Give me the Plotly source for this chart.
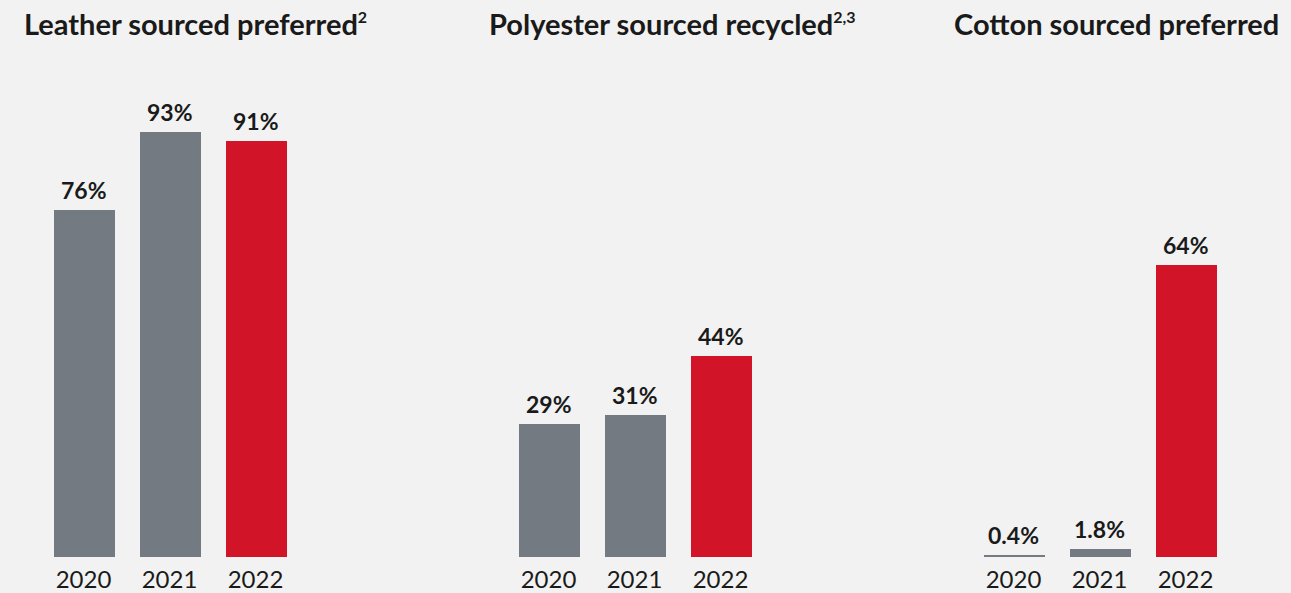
import plotly.graph_objects as go

years = ["2020", "2021", "2022"]
titles = ["Leather sourced preferred", "Polyester sourced recycled",
          "Cotton sourced preferred"]
title_notes = ["2", "2,3", ""]
leather = [76, 93, 91]
polyester = [29, 31, 44]
cotton = [0.4, 1.8, 64]
leather_labels = ["76%", "93%", "91%"]
polyester_labels = ["29%", "31%", "44%"]
cotton_labels = ["0.4%", "1.8%", "64%"]

series = [leather, polyester, cotton]
labels = [leather_labels, polyester_labels, cotton_labels]

GRAY = "#737a82"
RED = "#d11427"
BG = "#f2f2f2"
TXT = "#1a1a1a"
FONT = "Lato"

W, H = 1291, 593
MT, MB = 100, 36
PH = H - MT - MB
colors = [GRAY, GRAY, RED]

fig = go.Figure()
lefts = [40.5, 505.5, 970.5]
for i in range(3):
    ax = "" if i == 0 else str(i + 1)
    fig.add_trace(go.Bar(
        x=years, y=series[i], marker=dict(color=colors, line=dict(width=0)),
        width=61 / 86, xaxis="x" + ax, yaxis="y" + ax, showlegend=False,
        hoverinfo="skip"))
    for k, (yv, lab) in enumerate(zip(series[i], labels[i])):
        fig.add_annotation(x=k, y=yv, text="<b>" + lab + "</b>",
                           xref="x" + ax, yref="y" + ax,
                           yanchor="bottom", showarrow=False, yshift=4,
                           font=dict(family=FONT, size=23, color=TXT))
    t = "<b>" + titles[i] + "</b>"
    if title_notes[i]:
        t += "<sup><span style='font-size:16px'><b>" + title_notes[i] + "</b></span></sup>"
    fig.add_annotation(x=(lefts[i] - 19) / W, y=(H - MB - 23) / PH,
                       xref="paper", yref="paper", xanchor="left",
                       yanchor="middle", showarrow=False, text=t,
                       font=dict(family=FONT, size=29, color=TXT))
    dom = [lefts[i] / W, (lefts[i] + 258) / W]
    fig.layout["xaxis" + ax] = dict(domain=dom, type="category",
                                    range=[-0.5, 2.5], showgrid=False,
                                    zeroline=False, showline=False,
                                    ticks="", fixedrange=True,
                                    ticklabelstandoff=6, automargin=False,
                                    tickfont=dict(family=FONT, size=24, color=TXT))
    fig.layout["yaxis" + ax] = dict(domain=[0, 1], range=[0, 100],
                                    visible=False, anchor="x" + ax,
                                    fixedrange=True)

fig.update_layout(width=W, height=H, margin=dict(l=0, r=0, t=MT, b=MB),
                  paper_bgcolor=BG, plot_bgcolor=BG, bargap=0,
                  font=dict(family=FONT, color=TXT))
fig.write_html("out.html", config={"displayModeBar": False},
               post_script="document.body.style.margin='0';")
